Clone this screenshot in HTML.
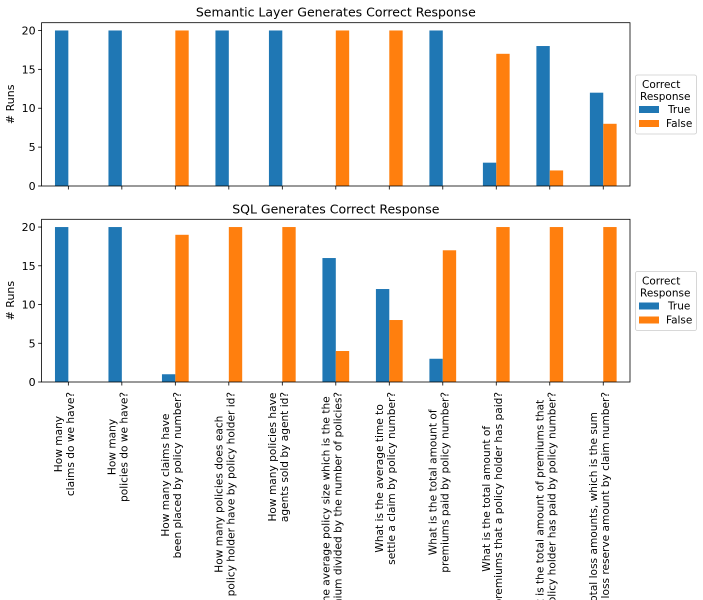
<!DOCTYPE html>
<html><head><meta charset="utf-8"><style>
html,body{margin:0;background:#fff;width:703px;height:600px;overflow:hidden}
svg{display:block;font-family:"DejaVu Sans","Liberation Sans",sans-serif}
</style></head><body>
<svg id="c" width="703" height="600" viewBox="0 0 703 600"></svg>
<script>
const categories=[
 ["How many","claims do we have?"],
 ["How many","policies do we have?"],
 ["How many claims have","been placed by policy number?"],
 ["How many policies does each","policy holder have by policy holder id?"],
 ["How many policies have","agents sold by agent id?"],
 ["What is the average policy size which is the the","total premium divided by the number of policies?"],
 ["What is the average time to","settle a claim by policy number?"],
 ["What is the total amount of","premiums paid by policy number?"],
 ["What is the total amount of","premiums that a policy holder has paid?"],
 ["What is the total amount of premiums that","that policy holder has paid by policy number?"],
 ["What is the total loss amounts, which is the sum","of loss payment, loss reserve amount by claim number?"]
];
const semTrue=[20,20,0,20,20,0,0,20,3,18,12];
const semFalse=[0,0,20,0,0,20,20,0,17,2,8];
const sqlTrue=[20,20,1,0,0,16,12,3,0,0,0];
const sqlFalse=[0,0,19,20,20,4,8,17,20,20,20];
const yTicks=[0,5,10,15,20];
const NS="http://www.w3.org/2000/svg";
const svg=document.getElementById('c');
const L=41.6,R=630,n=categories.length;
function xs(i){return L+(i+0.5)*(R-L)/n;}
const step=(R-L)/n,bw=step*0.25;
function mk(tag,attrs,parent){const e=document.createElementNS(NS,tag);for(const k in attrs)e.setAttribute(k,attrs[k]);(parent||svg).appendChild(e);return e;}
function panel(top,bottom,title,tv,fv,name,legTop){
 const g=mk('g',{});
 
 
 const ymax=21;
 const ys=v=>bottom-v/ymax*(bottom-top);
 for(let i=0;i<n;i++){
  const b1=mk('rect',{x:xs(i)-bw,y:ys(tv[i]),width:bw,height:bottom-ys(tv[i]),fill:'#1f77b4'},g);
  
  
  const b2=mk('rect',{x:xs(i),y:ys(fv[i]),width:bw,height:bottom-ys(fv[i]),fill:'#ff7f0e'},g);
  
  
  mk('line',{x1:xs(i),x2:xs(i),y1:bottom,y2:bottom+3.5,stroke:'#000','stroke-width':0.8},g);
 }
 mk('rect',{x:L,y:top,width:R-L,height:bottom-top,fill:'none',stroke:'#000','stroke-width':0.8},g);
 yTicks.forEach(t=>{
  mk('line',{x1:L-3.5,x2:L,y1:ys(t),y2:ys(t),stroke:'#000','stroke-width':0.8},g);
  const tx=mk('text',{x:L-6,y:ys(t)+4,'text-anchor':'end','font-size':11},g);tx.textContent=t;
  
  
 });
 const yl=mk('text',{transform:`translate(14,${(top+bottom)/2}) rotate(-90)`,'text-anchor':'middle','font-size':11},g);
 yl.textContent='# Runs';
 
 
 const tt=mk('text',{x:(L+R)/2,y:top-6,'text-anchor':'middle','font-size':12.5},g);
 tt.textContent=title;
 
 
 const lg=mk('g',{},g);
 
 
 mk('rect',{x:635.5,y:legTop,width:61,height:59,rx:2,fill:'#fff',stroke:'#ccc','stroke-width':0.8},lg);
 const t1=mk('text',{x:642,y:legTop+13,'font-size':10.5},lg);t1.textContent='Correct';
 const t2=mk('text',{x:640,y:legTop+25,'font-size':10.5},lg);t2.textContent='Response';
 mk('rect',{x:639,y:legTop+31,width:20,height:7,fill:'#1f77b4'},lg);
 mk('rect',{x:639,y:legTop+45,width:20,height:7,fill:'#ff7f0e'},lg);
 const t3=mk('text',{x:668,y:legTop+38,'font-size':10.5},lg);t3.textContent='True';
 
 
 const t4=mk('text',{x:666,y:legTop+52,'font-size':10.5},lg);t4.textContent='False';
 
 
}
panel(22.7,186,'Semantic Layer Generates Correct Response',semTrue,semFalse,'semantic-layer-panel',75);
panel(219.3,382,'SQL Generates Correct Response',sqlTrue,sqlFalse,'sql-panel',271.5);
categories.forEach((c,i)=>{
 const g=mk('g',{});
 
 
 const ts=c.map((s,j)=>{const t=mk('text',{'font-size':10.6,'text-anchor':'middle'},g);t.textContent=s;return t;});
 const maxLen=Math.max(...ts.map(t=>t.getComputedTextLength()));
 const cy=392+maxLen/2;
 ts.forEach((t,j)=>{const x=xs(i)-6.5+j*12;t.setAttribute('transform',`translate(${x},${cy}) rotate(-90)`);});
});
</script>
</body></html>
